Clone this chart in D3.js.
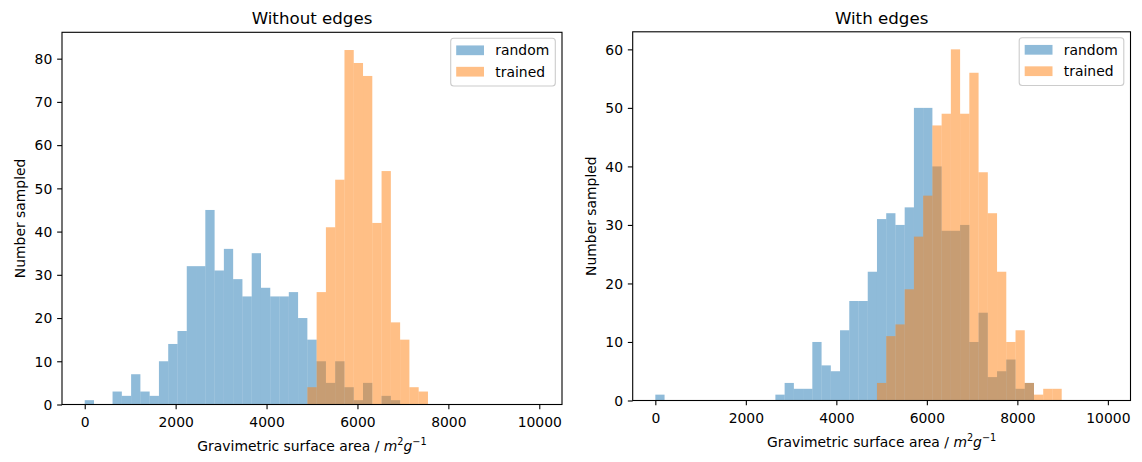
<!DOCTYPE html>
<html><head><meta charset="utf-8">
<script src="https://cdn.jsdelivr.net/npm/d3@7"></script>
<style>
body{margin:0;background:#fff}
svg{display:block}
text{font-family:"DejaVu Sans",sans-serif;fill:#000}
</style>
</head><body>
<svg id="c" width="1142" height="462"></svg>
<script>
// ---- data ----
const binMin = 0, binMax = 10000, binCount = 49;
const xTicks = [0, 2000, 4000, 6000, 8000, 10000];
const leftYTicks = [0, 10, 20, 30, 40, 50, 60, 70, 80];
const rightYTicks = [0, 10, 20, 30, 40, 50, 60];
const seriesNames = ["random", "trained"];
const panelTitles = ["Without edges", "With edges"];

const withoutEdgesRandom = [1,0,0,3,2,7,3,2,10,14,17,32,32,45,31,36,29,25,35,27,25,25,26,20,15,10,5,10,4,1,5,0,2,1,0,0,0,0,0,0,0,0,0,0,0,0,0,0,0];
const withoutEdgesTrained = [0,0,0,0,0,0,0,0,0,0,0,0,0,0,0,0,0,0,0,0,0,0,0,0,4,26,41,52,82,79,76,42,54,19,15,4,3,0,0,0,0,0,0,0,0,0,0,0,0];
const withEdgesRandom = [1,0,0,0,0,0,0,0,0,0,0,0,0,1,3,2,2,10,6,5,12,17,17,22,31,32,30,33,50,50,40,29,29,30,10,15,4,5,7,2,3,0,0,0,0,0,0,0,0];
const withEdgesTrained = [0,0,0,0,0,0,0,0,0,0,0,0,0,0,0,0,0,0,0,0,0,0,0,0,3,11,13,19,28,35,47,49,60,49,56,39,32,22,10,12,3,1,2,2,0,0,0,0,0];

// ---- style ----
const colors = ["#1f77b4", "#ff7f0e"];
const FS = 13.9, TFS = 16.67, TICK = 4.86;

const svg = d3.select("#c");
svg.append("rect").attr("width", 1142).attr("height", 462).attr("fill", "#fff");

function panel(cfg) {
  const {x0, x1, y0, y1, title, series, yTicks} = cfg;
  const g = svg.append("g");
  const xs = d3.scaleLinear().domain([binMin - 0.05 * (binMax - binMin), binMax + 0.05 * (binMax - binMin)]).range([x0, x1]);
  const ymax = d3.max(series.flat()) * 1.05;
  const ys = d3.scaleLinear().domain([0, ymax]).range([y1, y0]);
  const bw = (binMax - binMin) / binCount;

  series.forEach((arr, si) => {
    g.append("g").selectAll("rect")
      .data(arr.map((c, i) => ({c, i})).filter(d => d.c > 0))
      .join("rect")
      .attr("x", d => xs(binMin + d.i * bw))
      .attr("width", d => xs(binMin + (d.i + 1) * bw) - xs(binMin + d.i * bw))
      .attr("y", d => ys(d.c))
      .attr("height", d => ys(0) - ys(d.c))
      .attr("fill", colors[si])
      .attr("fill-opacity", 0.5);
  });

  // x axis
  const xa = g.append("g").attr("transform", `translate(0,${y1})`)
    .call(d3.axisBottom(xs).tickValues(xTicks).tickSize(TICK).tickSizeOuter(0).tickFormat(d3.format("d")));
  xa.select(".domain").remove();
  xa.selectAll(".tick line").attr("stroke", "#000").attr("stroke-width", 1.1);
  xa.selectAll(".tick text").attr("y", 22.5).attr("dy", 0).attr("font-size", FS)
    .attr("font-family", '"DejaVu Sans",sans-serif').attr("fill", "#000");

  // y axis
  const ya = g.append("g").attr("transform", `translate(${x0},0)`)
    .call(d3.axisLeft(ys).tickValues(yTicks).tickSize(TICK).tickPadding(TICK).tickSizeOuter(0).tickFormat(d3.format("d")));
  ya.select(".domain").remove();
  ya.selectAll(".tick line").attr("stroke", "#000").attr("stroke-width", 1.1);
  ya.selectAll(".tick text").attr("dy", "0.34em").attr("font-size", FS)
    .attr("font-family", '"DejaVu Sans",sans-serif').attr("fill", "#000");

  // spines
  g.append("rect").attr("x", x0).attr("y", y0).attr("width", x1 - x0).attr("height", y1 - y0)
    .attr("fill", "none").attr("stroke", "#000").attr("stroke-width", 1.1);

  // title
  g.append("text").attr("x", (x0 + x1) / 2).attr("y", 23.7).attr("text-anchor", "middle")
    .attr("font-size", TFS).text(title);

  // x label
  const xl = g.append("text").attr("x", (x0 + x1) / 2).attr("y", y1 + 46).attr("text-anchor", "middle")
    .attr("font-size", FS);
  xl.append("tspan").text("Gravimetric surface area / ");
  xl.append("tspan").attr("font-style", "italic").text("m");
  xl.append("tspan").attr("font-size", FS * 0.7).attr("dy", -6).text("2");
  xl.append("tspan").attr("font-style", "italic").attr("dy", 6).text("g");
  xl.append("tspan").attr("font-size", FS * 0.7).attr("dy", -6).text("\u22121");

  // y label
  g.append("text").attr("transform", `translate(${x0 - 37},${(y0 + y1) / 2}) rotate(-90)`)
    .attr("text-anchor", "middle").attr("font-size", FS).text("Number sampled");

  // legend
  const lw = 104.6, lh = 47.7;
  const lx = x1 - 6.7 - lw, ly = y0 + 6;
  const lg = g.append("g");
  lg.append("rect").attr("x", lx).attr("y", ly).attr("width", lw).attr("height", lh)
    .attr("rx", 3).attr("fill", "#fff").attr("fill-opacity", 0.8)
    .attr("stroke", "#cccccc").attr("stroke-width", 1.1);
  seriesNames.forEach((name, i) => {
    const cy = ly + 12 + i * 21.4;
    lg.append("rect").attr("x", lx + 5.5).attr("y", cy - 4.86).attr("width", 27.8).attr("height", 9.73)
      .attr("fill", colors[i]).attr("fill-opacity", 0.5);
    lg.append("text").attr("x", lx + 44.6).attr("y", cy + 5).attr("font-size", FS).text(name);
  });
}

panel({x0: 62, x1: 562, y0: 32.3, y1: 404.5, title: panelTitles[0],
       series: [withoutEdgesRandom, withoutEdgesTrained], yTicks: leftYTicks});
panel({x0: 632.7, x1: 1130.5, y0: 31.8, y1: 400.5, title: panelTitles[1],
       series: [withEdgesRandom, withEdgesTrained], yTicks: rightYTicks});
</script>
</body></html>
